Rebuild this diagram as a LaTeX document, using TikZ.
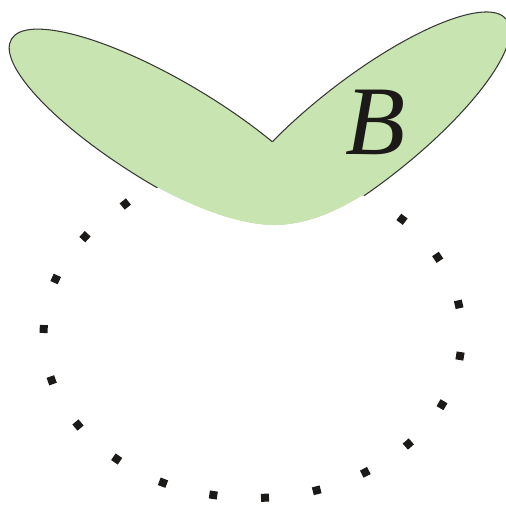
\documentclass[tikz,border=0pt]{standalone}
\usepackage{fontspec}
\setmainfont{Liberation Serif}
\definecolor{leaf}{RGB}{200,228,176}
\definecolor{edgec}{RGB}{55,55,55}
\definecolor{dotc}{RGB}{28,26,24}
\begin{document}
\begin{tikzpicture}[x=0.02cm,y=-0.02cm,
  dotsq/.style={rectangle,fill=dotc,draw=none,minimum size=0.16cm,inner sep=0pt},
  leafline/.style={draw=edgec,line width=0.6pt},
  leaffill/.style={fill=leaf,draw=none}]
\useasboundingbox (0,0) rectangle (506,505);
% dotted closed curve
\node[dotsq,rotate=39.1] (d1)  at (125.3,204.0) {};
\node[dotsq,rotate=47.1] (d2)  at (85.0,236.7) {};
\node[dotsq,rotate=65.9] (d3)  at (55.7,279.0) {};
\node[dotsq,rotate=87.7] (d4)  at (43.7,329.0) {};
\node[dotsq,rotate=19.7] (d5)  at (51.7,380.3) {};
\node[dotsq,rotate=39.6] (d6)  at (78.0,425.0) {};
\node[dotsq,rotate=55.8] (d7)  at (116.7,459.0) {};
\node[dotsq,rotate=69.6] (d8)  at (163.0,482.7) {};
\node[dotsq,rotate=81.6] (d9)  at (213.3,495.0) {};
\node[dotsq,rotate=2.6]  (d10) at (265.0,497.7) {};
\node[dotsq,rotate=14.2] (d11) at (316.7,490.3) {};
\node[dotsq,rotate=26.8] (d12) at (365.3,472.3) {};
\node[dotsq,rotate=41.4] (d13) at (408.3,444.0) {};
\node[dotsq,rotate=59.6] (d14) at (442.0,404.7) {};
\node[dotsq,rotate=80.6] (d15) at (460.0,356.0) {};
\node[dotsq,rotate=12.7] (d16) at (458.7,304.3) {};
\node[dotsq,rotate=33.7] (d17) at (437.7,257.3) {};
\node[dotsq,rotate=53.0] (d18) at (402.0,219.3) {};
% green region, cut below by the lower curve
\begin{scope}
  \clip (-20,-20) -- (-20,187) -- (157,187) .. controls (200,210) and (240,224) .. (273,225)
     .. controls (305,225) and (335,212) .. (361,196) -- (530,196) -- (530,-20) -- cycle;
  \fill[leaffill] (172.6,135.9) ellipse [x radius=188, y radius=52.5, rotate=-31];
  \fill[leaffill] (362.2,132.0) ellipse [x radius=183, y radius=52.5, rotate=38];
  \fill[leaffill] (157,187) .. controls (200,210) and (240,224) .. (273,225)
     .. controls (305,225) and (335,212) .. (361,196) -- (272,143) -- cycle;
\end{scope}
% outlines, only outside the dotted curve
\begin{scope}[even odd rule]
  \clip (-20,-20) -- (-20,530) -- (530,530) -- (530,-20) -- cycle
        (252,334) ellipse [x radius=209, y radius=164];
  \begin{scope}[even odd rule]
    \clip (-20,-20) -- (-20,530) -- (530,530) -- (530,-20) -- cycle
          (362.2,132.0) ellipse [x radius=183, y radius=52.5, rotate=38];
    \draw[leafline] (172.6,135.9) ellipse [x radius=188, y radius=52.5, rotate=-31];
  \end{scope}
  \begin{scope}[even odd rule]
    \clip (-20,-20) -- (-20,530) -- (530,530) -- (530,-20) -- cycle
          (172.6,135.9) ellipse [x radius=188, y radius=52.5, rotate=-31];
    \draw[leafline] (362.2,132.0) ellipse [x radius=183, y radius=52.5, rotate=38];
  \end{scope}
\end{scope}
\node[anchor=base,inner sep=0pt,font=\fontsize{56}{60}\selectfont\itshape,text=dotc] (lbl) at (376,154) {B};
\end{tikzpicture}
\end{document}
